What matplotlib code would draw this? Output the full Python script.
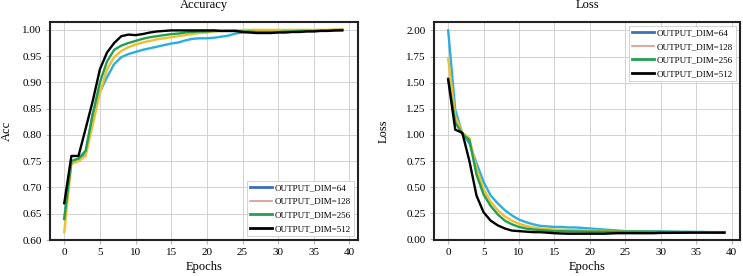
import matplotlib
matplotlib.use("Agg")
import matplotlib.pyplot as plt
from matplotlib.lines import Line2D
from matplotlib.ticker import FormatStrFormatter

plt.rcParams['font.family'] = ['Liberation Serif', 'DejaVu Serif']

# Data
epochs = list(range(40))
labels = ["OUTPUT_DIM=64", "OUTPUT_DIM=128", "OUTPUT_DIM=256", "OUTPUT_DIM=512"]

acc_64 = [0.640, 0.750, 0.755, 0.765, 0.840, 0.882, 0.910, 0.935, 0.948, 0.954,
          0.958, 0.962, 0.965, 0.968, 0.971, 0.974, 0.976, 0.980, 0.983, 0.984,
          0.984, 0.985, 0.987, 0.989, 0.993, 0.995, 0.996, 0.996, 0.996, 0.997,
          0.997, 0.997, 0.998, 0.998, 0.998, 0.999, 0.999, 0.999, 1.000, 1.000]
acc_128 = [0.615, 0.745, 0.750, 0.760, 0.820, 0.880, 0.925, 0.948, 0.960, 0.967,
           0.972, 0.976, 0.979, 0.982, 0.984, 0.986, 0.988, 0.990, 0.992, 0.994,
           0.995, 0.997, 0.998, 0.999, 0.999, 1.000, 1.000, 1.000, 1.000, 1.000,
           1.000, 1.000, 1.000, 1.000, 1.000, 1.000, 1.000, 1.000, 1.001, 1.001]
acc_256 = [0.640, 0.750, 0.755, 0.770, 0.840, 0.900, 0.940, 0.962, 0.970, 0.975,
           0.979, 0.983, 0.986, 0.988, 0.990, 0.992, 0.993, 0.995, 0.996, 0.997,
           0.997, 0.998, 0.998, 0.998, 0.998, 0.997, 0.997, 0.996, 0.996, 0.996,
           0.996, 0.997, 0.997, 0.998, 0.998, 0.998, 0.999, 0.999, 0.999, 1.000]
acc_512 = [0.670, 0.760, 0.760, 0.812, 0.865, 0.925, 0.957, 0.975, 0.988, 0.991,
           0.990, 0.992, 0.995, 0.997, 0.998, 0.999, 0.999, 0.999, 0.999, 0.999,
           0.999, 0.999, 0.998, 0.998, 0.998, 0.996, 0.995, 0.994, 0.994, 0.994,
           0.995, 0.995, 0.996, 0.996, 0.997, 0.997, 0.998, 0.998, 0.999, 0.999]

loss_64 = [2.00, 1.24, 1.01, 0.92, 0.73, 0.55, 0.42, 0.345, 0.28, 0.23,
           0.19, 0.165, 0.145, 0.13, 0.125, 0.12, 0.12, 0.115, 0.115, 0.11,
           0.105, 0.10, 0.095, 0.09, 0.085, 0.08, 0.08, 0.078, 0.077, 0.076,
           0.075, 0.074, 0.073, 0.072, 0.072, 0.071, 0.071, 0.070, 0.070, 0.070]
loss_128 = [1.73, 1.18, 1.02, 0.97, 0.68, 0.48, 0.36, 0.28, 0.22, 0.18,
            0.15, 0.13, 0.115, 0.105, 0.10, 0.095, 0.093, 0.091, 0.089, 0.087,
            0.085, 0.083, 0.081, 0.079, 0.077, 0.075, 0.074, 0.073, 0.072, 0.071,
            0.070, 0.069, 0.068, 0.068, 0.067, 0.067, 0.066, 0.066, 0.065, 0.065]
loss_256 = [1.54, 1.12, 1.01, 0.95, 0.62, 0.43, 0.32, 0.24, 0.18, 0.145,
            0.12, 0.105, 0.095, 0.09, 0.085, 0.08, 0.079, 0.078, 0.077, 0.076,
            0.075, 0.075, 0.075, 0.075, 0.075, 0.075, 0.075, 0.075, 0.075, 0.075,
            0.075, 0.074, 0.073, 0.072, 0.072, 0.071, 0.071, 0.070, 0.070, 0.070]
loss_512 = [1.53, 1.05, 1.02, 0.75, 0.42, 0.26, 0.18, 0.135, 0.105, 0.085,
            0.08, 0.075, 0.07, 0.07, 0.065, 0.06, 0.057, 0.055, 0.055, 0.055,
            0.055, 0.055, 0.055, 0.058, 0.06, 0.06, 0.06, 0.06, 0.06, 0.06,
            0.063, 0.063, 0.064, 0.064, 0.065, 0.065, 0.065, 0.065, 0.065, 0.065]

line_colors = ["#29aee3", "#f4bd2c", "#21a052", "#000000"]
legend_colors = ["#3d6fb6", "#d89a88", "#21a052", "#000000"]

fig = plt.figure(figsize=(7.43, 2.76), dpi=100)
ax1 = fig.add_axes([50 / 743, 36 / 276, 308 / 743, 218 / 276])
ax2 = fig.add_axes([434 / 743, 36 / 276, 306 / 743, 218 / 276])


def style_axes(ax):
    ax.grid(True, color="#d2d2d2", linewidth=0.7)
    ax.set_axisbelow(True)
    for sp in ax.spines.values():
        sp.set_color("#222222")
        sp.set_linewidth(1.5)
    ax.tick_params(axis="both", labelsize=8, length=3, color="#bbbbbb", pad=3)
    ax.set_xticks(range(0, 41, 5))
    ax.set_xlim(-2.0, 41.2)
    ax.set_xlabel("Epochs", fontsize=9)
    ax.xaxis.set_label_coords(0.5, -0.095)


def make_legend(ax, loc):
    handles = [Line2D([0], [0], color=c, lw=2 if c != "#d89a88" else 1.2)
               for c in legend_colors]
    leg = ax.legend(handles, labels, loc=loc, fontsize=6.5, frameon=True,
                    fancybox=False, edgecolor="#cccccc", framealpha=1,
                    handlelength=2.4, handletextpad=0.35, borderpad=0.35,
                    labelspacing=0.6, borderaxespad=0.4)
    leg.get_frame().set_linewidth(0.6)


acc_series = [acc_64, acc_128, acc_256, acc_512]
for vals, c in zip(acc_series, line_colors):
    ax1.plot(epochs, vals, color=c, lw=1.7)
style_axes(ax1)
ax1.set_ylim(0.6, 1.015)
ax1.set_yticks([0.60, 0.65, 0.70, 0.75, 0.80, 0.85, 0.90, 0.95, 1.00])
ax1.yaxis.set_major_formatter(FormatStrFormatter("%.2f"))
ax1.set_title("Accuracy", fontsize=9, pad=10)
ax1.set_ylabel("Acc", fontsize=9)
ax1.yaxis.set_label_coords(-0.12, 0.5)
make_legend(ax1, "lower right")

loss_series = [loss_64, loss_128, loss_256, loss_512]
for vals, c in zip(loss_series, line_colors):
    ax2.plot(epochs, vals, color=c, lw=1.7)
style_axes(ax2)
ax2.set_ylim(-0.005, 2.08)
ax2.set_yticks([0.0, 0.25, 0.5, 0.75, 1.0, 1.25, 1.5, 1.75, 2.0])
ax2.yaxis.set_major_formatter(FormatStrFormatter("%.2f"))
ax2.set_title("Loss", fontsize=9, pad=10)
ax2.set_ylabel("Loss", fontsize=9)
ax2.yaxis.set_label_coords(-0.144, 0.5)
make_legend(ax2, "upper right")

fig.savefig("out.png", dpi=100)
